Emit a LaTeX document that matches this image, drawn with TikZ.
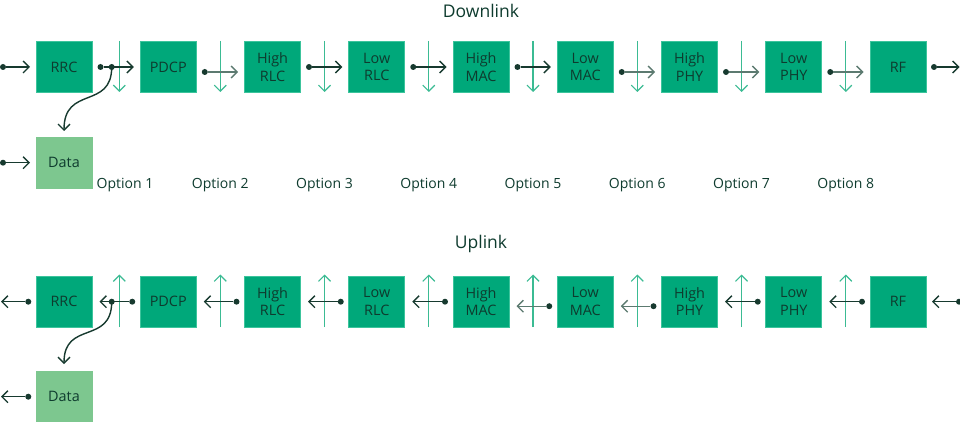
\documentclass[tikz,border=0pt]{standalone}
\usepackage{fontspec}
\setmainfont{Open Sans}
\usetikzlibrary{arrows.meta}
\definecolor{boxg}{HTML}{00A87A}
\definecolor{boxedge}{HTML}{3CC49C}
\definecolor{datag}{HTML}{7DC78F}
\definecolor{txt}{HTML}{0E3B2E}
\definecolor{darkln}{HTML}{173A2F}
\definecolor{greyln}{HTML}{5C7A70}
\definecolor{vln}{HTML}{3BBB93}
\begin{document}
\begin{tikzpicture}[x=1pt,y=-1pt,
  blk/.style={fill=boxg, draw=boxedge, line width=0.6pt, minimum width=56pt, minimum height=51pt, inner sep=0pt, align=center, text=txt, font=\fontsize{14.4}{17.5}\selectfont},
  datablk/.style={blk, fill=datag, draw=datag},
  dot/.style={circle, fill=darkln, inner sep=0pt, minimum size=6pt},
  flow/.style={draw=darkln, line width=1.4pt, -{Straight Barb[length=6pt,width=12pt,line width=1.3pt]}},
  vflow/.style={draw=vln, line width=1.3pt, -{Straight Barb[length=6pt,width=12pt,line width=1.2pt]}},
  ttl/.style={text=txt, font=\fontsize{17.5}{20}\selectfont},
  optlbl/.style={text=txt, font=\fontsize{14}{17}\selectfont}
]
\useasboundingbox (0,0) rectangle (960,422);

% titles
\node[ttl] (tdown) at (481,10.5) {Downlink};
\node[ttl] (tup) at (481,243.5) {Uplink};

% blocks
\foreach \i/\t in {0/RRC,1/PDCP,2/{High\\RLC},3/{Low\\RLC},4/{High\\MAC},5/{Low\\MAC},6/{High\\PHY},7/{Low\\PHY},8/RF} {
  \node[blk] (d\i) at ({64+104.25*\i},67) {\t};
  \node[blk] (u\i) at ({64+104.25*\i},301.5) {\t};
}
\node[datablk] (ddata) at (64,162.5) {Data};
\node[datablk] (udata) at (64,396.5) {Data};

% vertical split lines and option labels
\foreach \k/\x in {1/119.3,2/220.25,3/324.5,4/428.75,5/533,6/637.25,7/741.5,8/845.75} {
  \coordinate (vt\k) at (\x,41);
  \coordinate (vb\k) at (\x,92);
  \draw[vflow] (vt\k) -- (vb\k);
  \coordinate (wt\k) at (\x,274.5);
  \coordinate (wb\k) at (\x,327);
  \draw[vflow] (wb\k) -- (wt\k);
}
\foreach \k/\x in {1/125,2/220.25,3/324.5,4/428.75,5/533,6/637.25,7/741.5,8/845.75} {
  \node[optlbl] (opt\k) at (\x,185.3) {Option \k};
}

% downlink arrows between blocks
\foreach \i/\dy/\c in {0/0/darkln,1/5/greyln,2/0/darkln,3/0/darkln,4/0/darkln,5/5/greyln,6/5/greyln,7/5/greyln} {
  \node[dot] (dd\i) at ({100.5+104.25*\i},{67+\dy}) {};
  \coordinate (dt\i) at ({133.75+104.25*\i},{67+\dy});
  \draw[flow, draw=\c] (dd\i) -- (dt\i);
}
% uplink arrows between blocks
\foreach \i/\dy/\c in {0/0/darkln,1/0/darkln,2/0/darkln,3/0/darkln,4/4.5/greyln,5/4.5/greyln,6/0/darkln,7/0/darkln} {
  \node[dot] (ud\i) at ({132.25+104.25*\i},{301.7+\dy}) {};
  \coordinate (ut\i) at ({99.5+104.25*\i},{301.7+\dy});
  \draw[flow, draw=\c] (ud\i) -- (ut\i);
}

% junctions and curves to Data
\node[dot] (jd) at (111.7,67) {};
\coordinate (jdt) at (64,131);
\draw[flow] (jd.center) .. controls (111.7,110) and (64,85) .. (jdt);
\node[dot] (ju) at (111.7,301.7) {};
\coordinate (jut) at (64,364);
\draw[flow] (ju.center) .. controls (111.7,345) and (64,320) .. (jut);

% external inputs / outputs
\node[dot] (indl) at (3,67) {};
\coordinate (indlt) at (30,67);
\draw[flow] (indl) -- (indlt);
\node[dot] (indata) at (3,162.7) {};
\coordinate (indatat) at (30,162.7);
\draw[flow] (indata) -- (indatat);
\node[dot] (outrf) at (934,67) {};
\coordinate (outrft) at (959.5,67);
\draw[flow] (outrf) -- (outrft);

\node[dot] (outrrc) at (28.3,301.7) {};
\coordinate (outrrct) at (1,301.7);
\draw[flow] (outrrc) -- (outrrct);
\node[dot] (outdata) at (28.3,396.7) {};
\coordinate (outdatat) at (1,396.7);
\draw[flow] (outdata) -- (outdatat);
\node[dot] (inrf) at (959,301.7) {};
\coordinate (inrft) at (932,301.7);
\draw[flow] (inrf) -- (inrft);
\end{tikzpicture}
\end{document}
